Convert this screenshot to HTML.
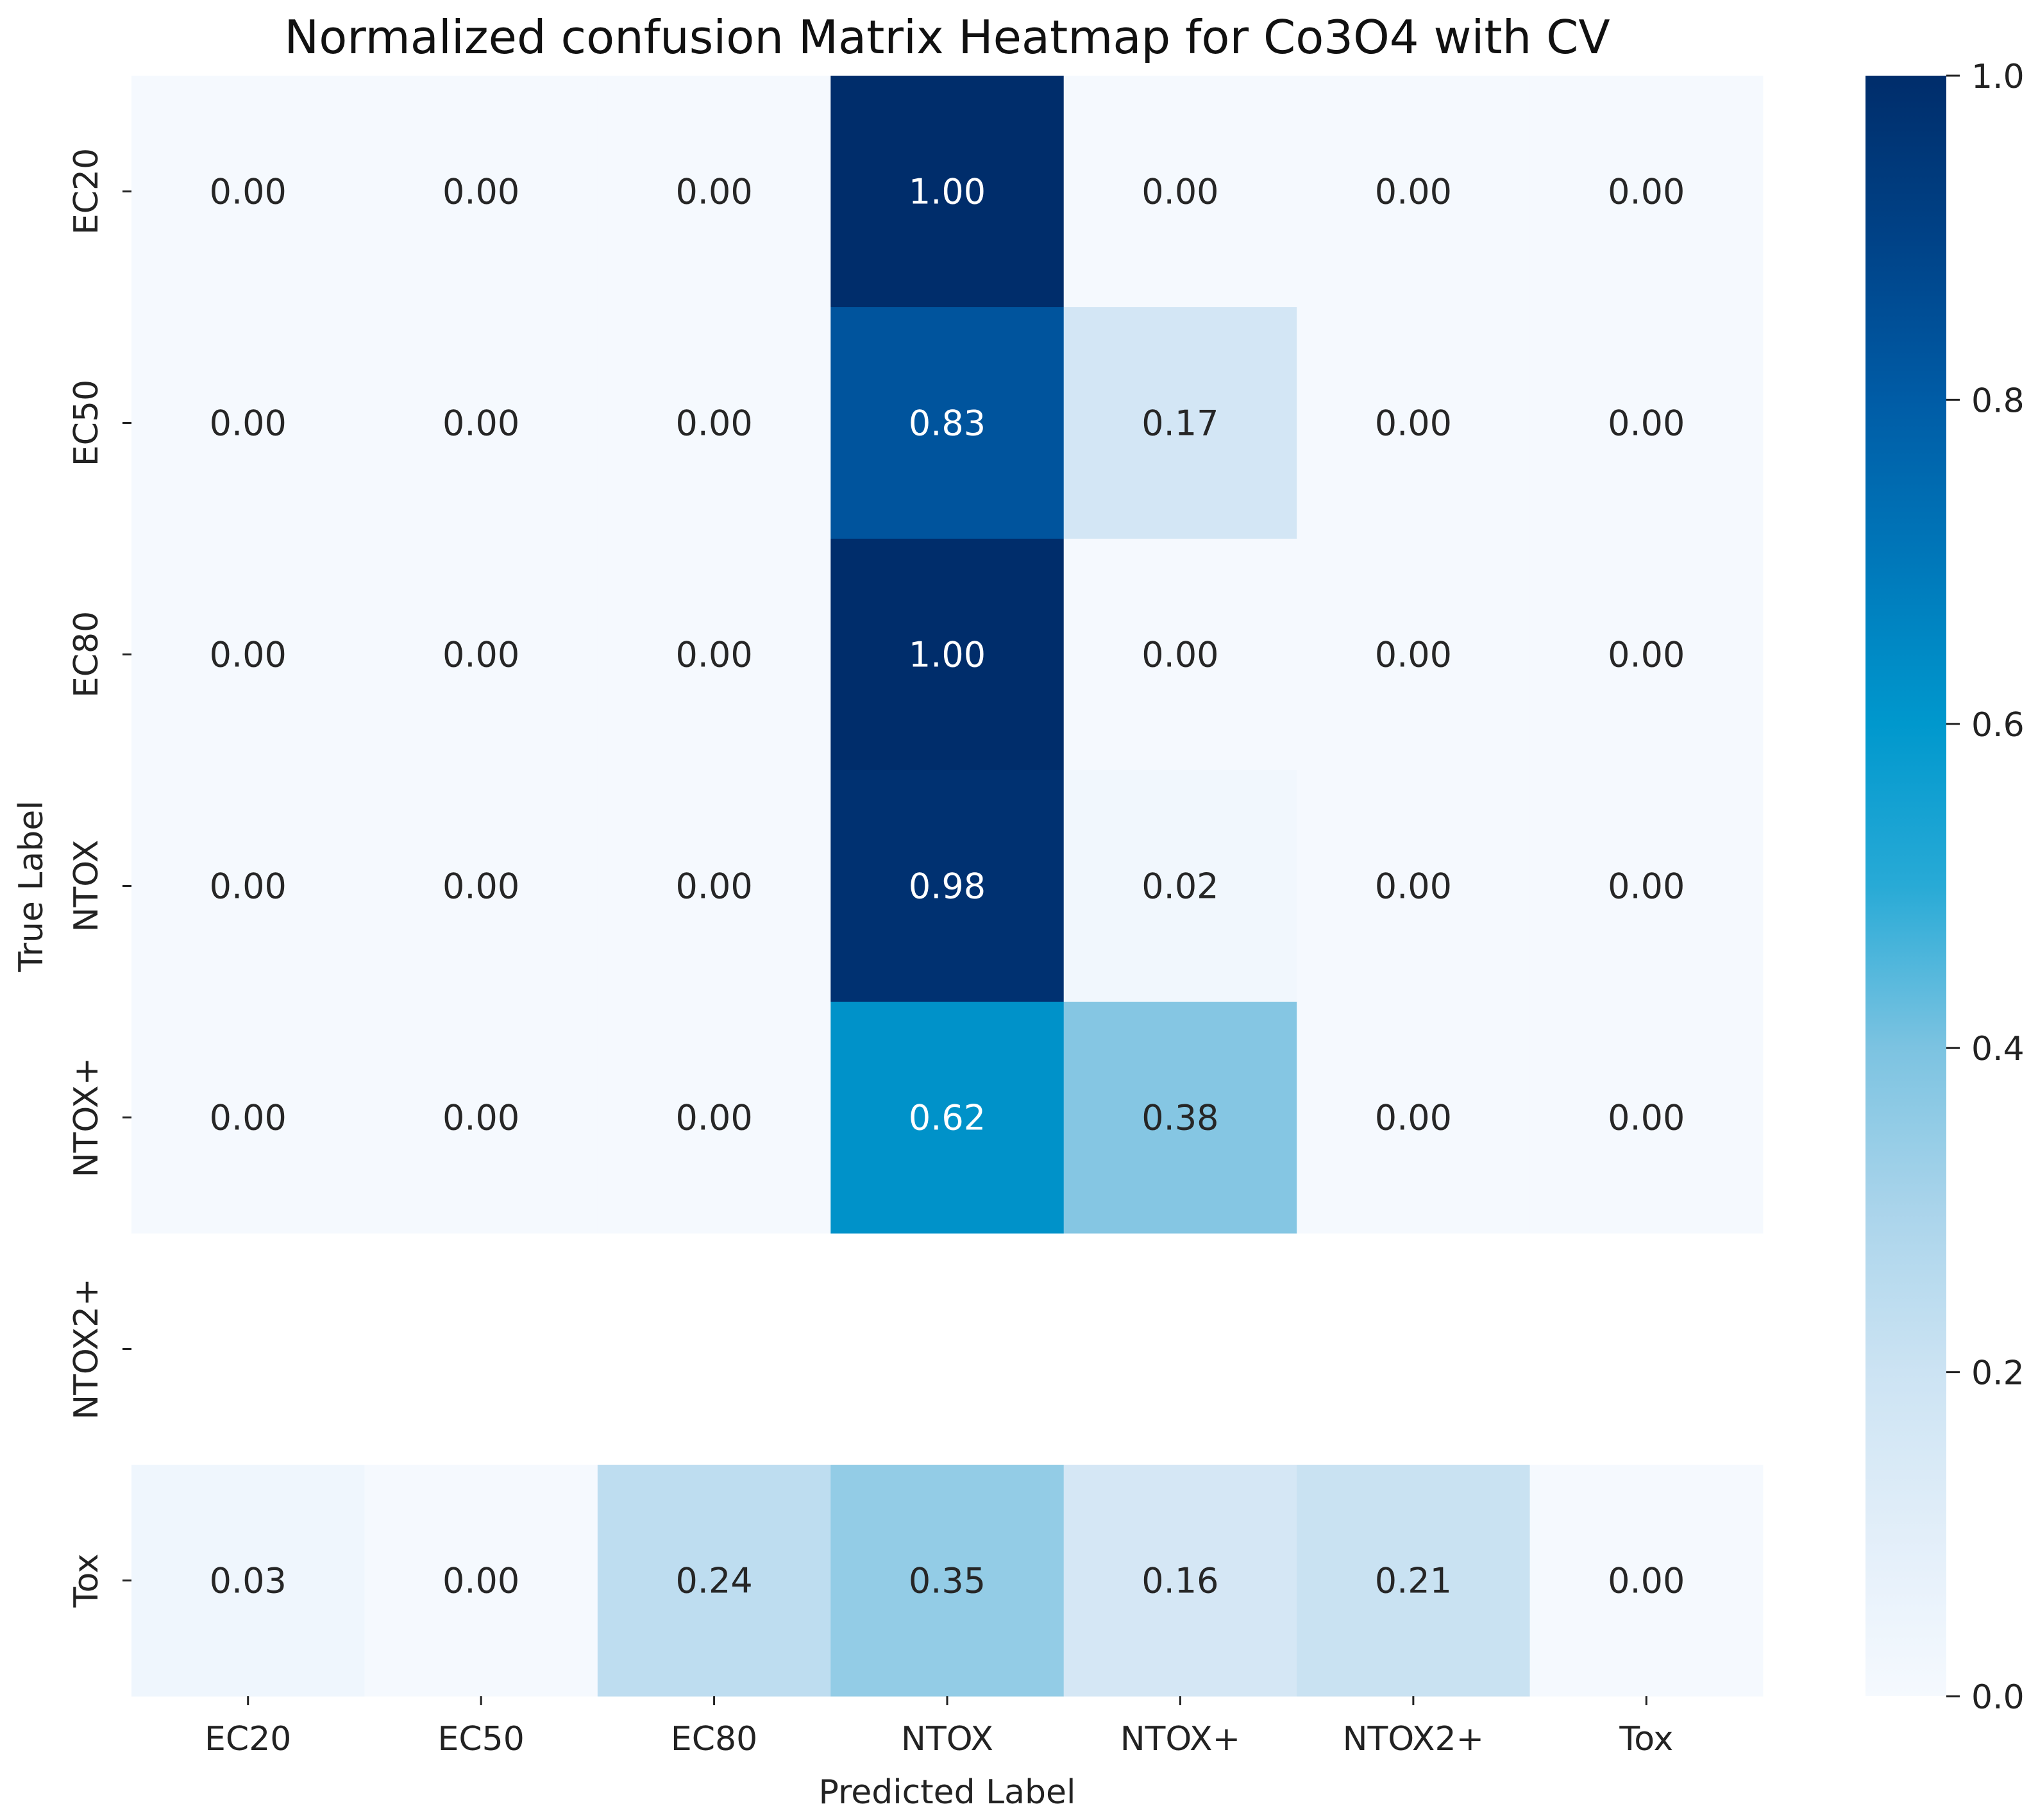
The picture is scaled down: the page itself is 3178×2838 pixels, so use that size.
<!DOCTYPE html>
<html><head><meta charset="utf-8">
<style>
html,body{margin:0;padding:0;background:#fff;}
svg{display:block;}
text{font-family:"DejaVu Sans","Liberation Sans",sans-serif;}
</style></head>
<body>
<svg id="chart" width="3178" height="2838" viewBox="0 0 3178 2838" xmlns="http://www.w3.org/2000/svg">
<rect x="0" y="0" width="3178" height="2838" fill="#ffffff"/>
<text x="1477" y="83" font-size="72" text-anchor="middle" fill="#111">Normalized confusion Matrix Heatmap for Co3O4 with CV</text>
<g id="cells"></g>
<g id="xaxis"></g>
<g id="yaxis"></g>
<text x="1477" y="2812" font-size="52" text-anchor="middle" fill="#222">Predicted Label</text>
<text x="0" y="0" font-size="52" text-anchor="middle" fill="#222" transform="translate(66,1382) rotate(-90)">True Label</text>
<defs>
<linearGradient id="cbgrad" x1="0" y1="1" x2="0" y2="0"></linearGradient>
</defs>
<rect x="2909" y="118" width="126" height="2527" fill="url(#cbgrad)"/>
<g id="cbticks"></g>
</svg>
<script>
const predLabels = ["EC20","EC50","EC80","NTOX","NTOX+","NTOX2+","Tox"];
const trueLabels = ["EC20","EC50","EC80","NTOX","NTOX+","NTOX2+","Tox"];
const rowEC20  = [0.00,0.00,0.00,1.00,0.00,0.00,0.00];
const rowEC50  = [0.00,0.00,0.00,0.83,0.17,0.00,0.00];
const rowEC80  = [0.00,0.00,0.00,1.00,0.00,0.00,0.00];
const rowNTOX  = [0.00,0.00,0.00,0.98,0.02,0.00,0.00];
const rowNTOXp = [0.00,0.00,0.00,0.62,0.38,0.00,0.00];
const rowNTOX2p= [null,null,null,null,null,null,null];
const rowTox   = [0.03,0.00,0.24,0.35,0.16,0.21,0.00];
const cbTicks  = [0.0,0.2,0.4,0.6,0.8,1.0];

const matrix = [rowEC20,rowEC50,rowEC80,rowNTOX,rowNTOXp,rowNTOX2p,rowTox];
const NS = "http://www.w3.org/2000/svg";
const L=205, R=2749, T=118, B=2645;
const cw=(R-L)/predLabels.length, ch=(B-T)/trueLabels.length;
const xPos = i => L + i*cw;
const yPos = j => T + j*ch;
const cbY = v => B - v*(B-T);
const stops = [[0,[245,249,254]],[0.1,[226,238,249]],[0.2,[204,227,243]],[0.3,[170,212,235]],[0.4,[124,195,225]],[0.5,[40,170,214]],[0.6,[0,152,205]],[0.7,[0,120,186]],[0.8,[0,92,166]],[0.9,[0,66,135]],[1,[0,45,107]]];
function color(v){
  for(let k=1;k<stops.length;k++){
    if(v<=stops[k][0]){
      const a=stops[k-1],b=stops[k],t=(v-a[0])/(b[0]-a[0]);
      const c=a[1].map((x,i)=>Math.round(x+(b[1][i]-x)*t));
      return `rgb(${c[0]},${c[1]},${c[2]})`;
    }
  }
  return "rgb(0,45,107)";
}
function mk(tag,attrs,parent){
  const e=document.createElementNS(NS,tag);
  for(const k in attrs) e.setAttribute(k,attrs[k]);
  parent.appendChild(e); return e;
}
const cells=document.getElementById("cells");
matrix.forEach((row,j)=>{
  row.forEach((v,i)=>{
    if(v===null) return;
    const r=mk("rect",{x:xPos(i),y:yPos(j),width:cw+0.5,height:ch+0.5,fill:color(v)},cells);
    
    
    const t=mk("text",{x:xPos(i)+cw/2,y:yPos(j)+ch/2+19,"font-size":54,"text-anchor":"middle",fill:v>0.5?"#ffffff":"#262626"},cells);
    
    
    t.textContent=v.toFixed(2);
  });
});
const xa=document.getElementById("xaxis");
predLabels.forEach((lab,i)=>{
  const cx=xPos(i)+cw/2;
  const tk=mk("line",{x1:cx,y1:B,x2:cx,y2:B+14,stroke:"#222","stroke-width":3},xa);
  
  
  const t=mk("text",{x:cx,y:2729,"font-size":52,"text-anchor":"middle",fill:"#222"},xa);
  
  
  t.textContent=lab;
});
const ya=document.getElementById("yaxis");
trueLabels.forEach((lab,j)=>{
  const cy=yPos(j)+ch/2;
  const tk=mk("line",{x1:L-14,y1:cy,x2:L,y2:cy,stroke:"#222","stroke-width":3},ya);
  
  
  const t=mk("text",{x:0,y:0,"font-size":52,"text-anchor":"middle",fill:"#222",transform:`translate(152,${cy}) rotate(-90)`},ya);
  
  
  t.textContent=lab;
});
const g=document.getElementById("cbgrad");
for(let k=0;k<=20;k++){
  mk("stop",{offset:(k/20),"stop-color":color(k/20)},g);
}
const cbt=document.getElementById("cbticks");
cbTicks.forEach(v=>{
  const y=cbY(v);
  const tk=mk("line",{x1:3035,y1:y,x2:3056,y2:y,stroke:"#222","stroke-width":3},cbt);
  
  
  const t=mk("text",{x:3074,y:y+19,"font-size":52,fill:"#222"},cbt);
  
  
  t.textContent=v.toFixed(1);
});
</script>
</body></html>
